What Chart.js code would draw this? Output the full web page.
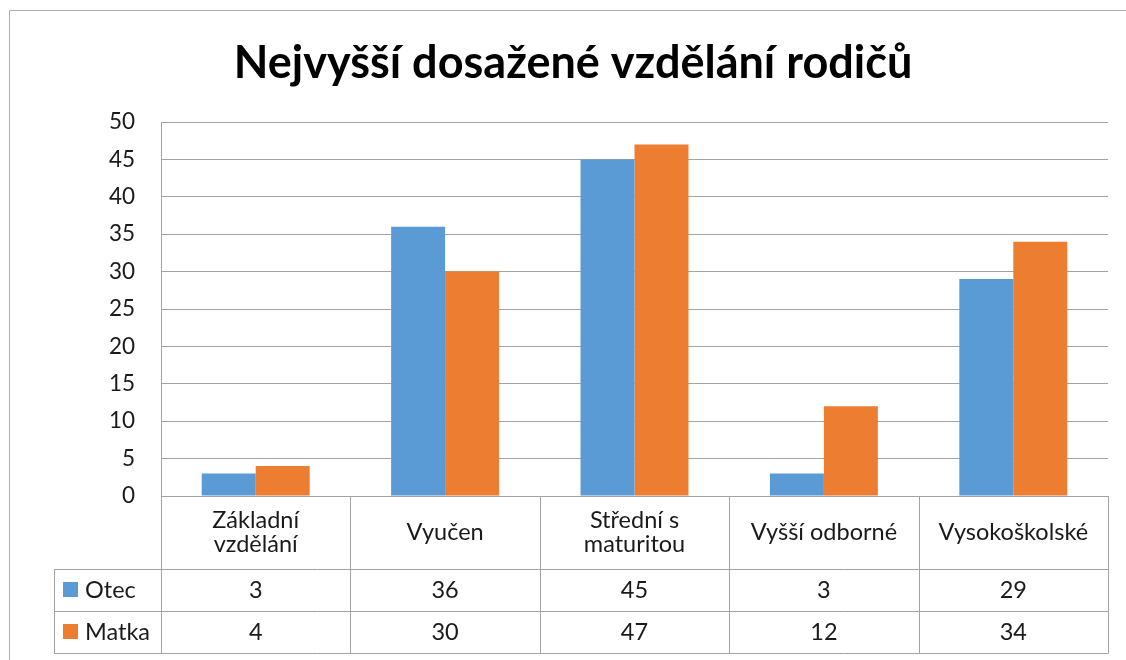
<!DOCTYPE html>
<html>
<head>
<meta charset="utf-8">
<script src="https://cdn.jsdelivr.net/npm/chart.js@4"></script>
<style>
  html, body { margin: 0; padding: 0; background: #fff; }
  #wrap { width: 1126px; height: 660px; }
</style>
</head>
<body>
<div id="wrap"><canvas id="eduChart"></canvas></div>
<script>
const chartTitle = 'Nejvyšší dosažené vzdělání rodičů';
const categories = [['Základní', 'vzdělání'], 'Vyučen', ['Střední s', 'maturitou'], 'Vyšší odborné', 'Vysokoškolské'];
const seriesNames = ['Otec', 'Matka'];
const otec = [3, 36, 45, 3, 29];
const matka = [4, 30, 47, 12, 34];
const yMin = 0, yMax = 50, yStep = 5;

const colors = ['#5b9bd5', '#ed7d31'];
const lineColor = '#a3a3a3';
const textColor = '#1a1a1a';
const fontFamily = 'Lato, "Open Sans", sans-serif';

// header row + two data rows below the plot
const headerH = 73, rowH = 42, legendLeft = 54;

const tablePlugin = {
    id: 'dataTable',
    afterDraw(chart) {
        const ctx = chart.ctx;
        const area = chart.chartArea;
        const xs = chart.scales.x;
        const n = categories.length;
        const colW = (area.right - area.left) / n;
        const y0 = area.bottom;
        const y1 = y0 + headerH, y2 = y1 + rowH, y3 = y2 + rowH;

        ctx.save();
        // outer chart border (clipped on right and bottom)
        ctx.strokeStyle = '#adadad';
        ctx.lineWidth = 1;
        ctx.strokeRect(9.5, 10.5, 1300, 800);

        // title
        ctx.fillStyle = '#000';
        ctx.font = 'bold 45px ' + fontFamily;
        ctx.textAlign = 'center';
        ctx.textBaseline = 'alphabetic';
        ctx.fillText(chartTitle, 573, 78);

        // table grid
        ctx.strokeStyle = lineColor;
        ctx.beginPath();
        [y1, y2, y3].forEach(y => {
            ctx.moveTo(legendLeft, Math.round(y) + 0.5);
            ctx.lineTo(area.right, Math.round(y) + 0.5);
        });
        for (let i = 0; i <= n; i++) {
            const x = Math.round(area.left + colW * i) + 0.5;
            ctx.moveTo(x, y0);
            ctx.lineTo(x, y3 + 0.5);
        }
        ctx.moveTo(legendLeft + 0.5, y1);
        ctx.lineTo(legendLeft + 0.5, y3 + 0.5);
        ctx.stroke();

        // header labels
        ctx.fillStyle = textColor;
        ctx.font = '23.5px ' + fontFamily;
        ctx.textBaseline = 'middle';
        ctx.textAlign = 'center';
        categories.forEach((c, i) => {
            const cx = xs.getPixelForValue(i);
            const lines = Array.isArray(c) ? c : [c];
            const lh = 24;
            const start = (y0 + y1) / 2 - (lines.length - 1) * lh / 2;
            lines.forEach((t, j) => ctx.fillText(t, cx, start + j * lh));
        });

        // values
        const rows = [otec, matka];
        rows.forEach((vals, r) => {
            const cy = (r === 0 ? (y1 + y2) : (y2 + y3)) / 2;
            vals.forEach((v, i) => ctx.fillText(String(v), xs.getPixelForValue(i), cy));
            // legend key
            ctx.fillStyle = colors[r];
            ctx.fillRect(63, Math.round(cy) - 8, 15, 15);
            ctx.fillStyle = textColor;
            ctx.textAlign = 'left';
            ctx.fillText(seriesNames[r], 85, cy);
            ctx.textAlign = 'center';
        });
        ctx.restore();
    }
};

const ctx = document.getElementById('eduChart').getContext('2d');
const eduChart = new Chart(ctx, {
    type: 'bar',
    data: {
        labels: categories,
        datasets: [{
            label: seriesNames[0],
            data: otec,
            backgroundColor: colors[0]
        }, {
            label: seriesNames[1],
            data: matka,
            backgroundColor: colors[1]
        }]
    },
    options: {
        responsive: true,
        maintainAspectRatio: false,
        animation: false,
        layout: { padding: { left: 0, right: 18, top: 122, bottom: 164 } },
        datasets: { bar: { barPercentage: 1.0, categoryPercentage: 0.57 } },
        scales: {
            x: { display: false },
            y: {
                min: yMin, max: yMax,
                ticks: { stepSize: yStep, padding: 26, color: textColor, font: { family: fontFamily, size: 22.5 } },
                grid: { color: lineColor, drawTicks: false },
                border: { display: true, color: lineColor },
                afterFit(scale) { scale.width = 161; }
            }
        },
        plugins: {
            legend: { display: false },
            title: { display: false },
            tooltip: { enabled: false }
        }
    },
    plugins: [tablePlugin]
});
</script>
</body>
</html>
